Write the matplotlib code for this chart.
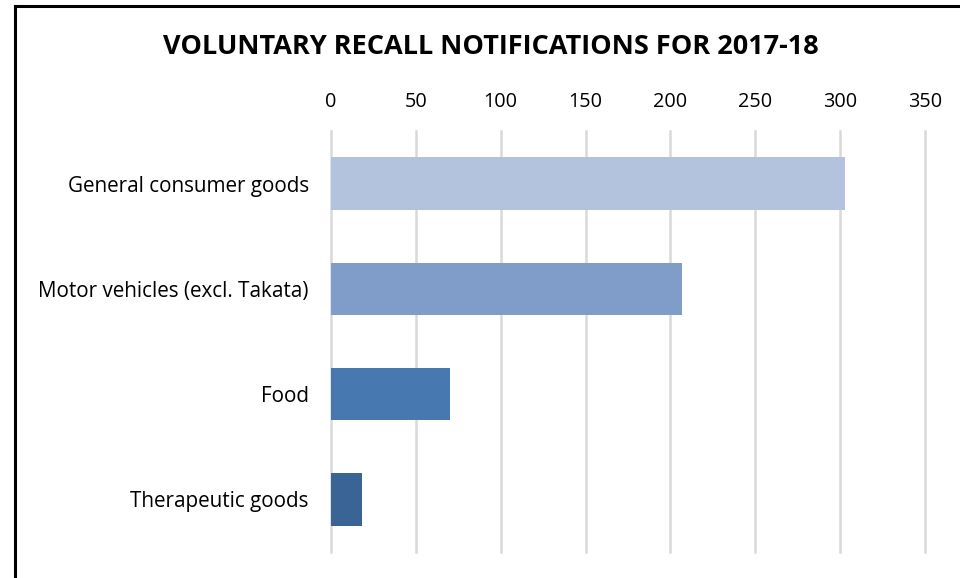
import matplotlib.pyplot as plt
from matplotlib.lines import Line2D

categories = ["General consumer goods", "Motor vehicles (excl. Takata)", "Food", "Therapeutic goods"]
values = [303, 207, 70, 18]
colors = ["#B4C3DD", "#7F9DC8", "#4878B0", "#3B6496"]
ticks = [0, 50, 100, 150, 200, 250, 300, 350]

plt.rcParams['font.family'] = ['Open Sans', 'DejaVu Sans']

fig = plt.figure(figsize=(9.6, 5.78), dpi=100)
ax = fig.add_axes([0.3448, 0.045, 0.6187, 0.7284])

ypos = list(range(len(categories)))
ax.barh(ypos, values, height=0.5, color=colors, zorder=3)
ax.set_ylim(len(categories) - 0.5, -0.5)
ax.set_xlim(0, 350)
ax.set_yticks(ypos)
ax.set_yticklabels(categories, fontsize=14.9)
ax.set_xticks(ticks)
ax.set_xticklabels([str(t) for t in ticks], fontsize=14.3)
ax.xaxis.tick_top()
ax.tick_params(axis='y', length=0, pad=16)
ax.tick_params(axis='x', length=0, pad=14)
ax.grid(axis='x', color='#D9D9D9', linewidth=1.8, zorder=0)
for gl in ax.get_xgridlines():
    gl.set_clip_on(False)
for s in ax.spines.values():
    s.set_visible(False)

fig.text(0.511, 0.918, "VOLUNTARY RECALL NOTIFICATIONS FOR 2017-18",
         ha='center', va='center', fontsize=19.5, fontweight='bold')

# border of the chart box (top and left edges visible)
fig.add_artist(Line2D([14.5 / 960, 1], [1 - 6 / 578, 1 - 6 / 578], color='black', linewidth=2.2))
fig.add_artist(Line2D([14.5 / 960, 14.5 / 960], [0, 1 - 6 / 578], color='black', linewidth=2.2))

fig.savefig("out.png", dpi=100)
